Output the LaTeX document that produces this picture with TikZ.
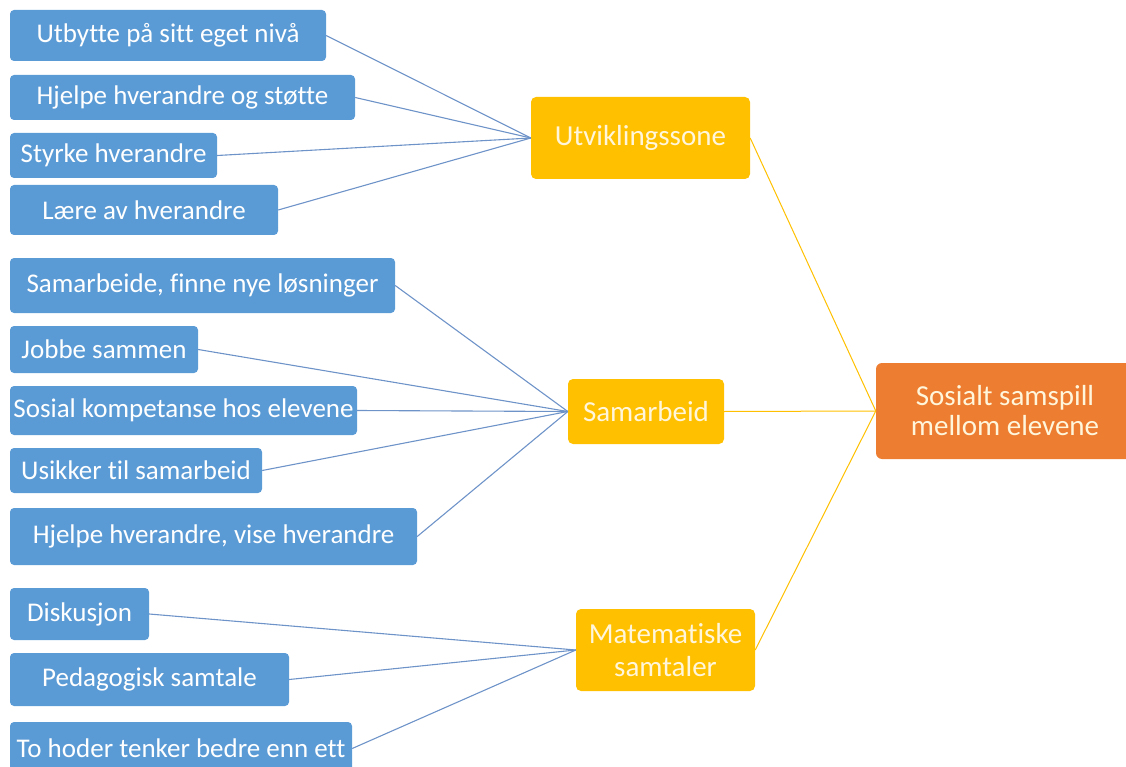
\documentclass[tikz,border=0pt]{standalone}
\usepackage{fontspec}
\setmainfont[Ligatures=NoCommon]{Carlito}
\definecolor{leafblue}{HTML}{5B9BD5}
\definecolor{linkblue}{HTML}{6E93C8}
\definecolor{midgold}{HTML}{FFC000}
\definecolor{toporange}{HTML}{ED7D31}
\definecolor{cream}{HTML}{FFF6DC}
\tikzstyle{leaf}=[rectangle,rounded corners=4pt,fill=leafblue,text=white,inner sep=0pt,font=\fontsize{27}{31}\selectfont]
\tikzstyle{mid}=[rectangle,rounded corners=5pt,fill=midgold,text=cream,inner sep=0pt,align=center,font=\fontsize{29}{33}\selectfont]
\tikzstyle{top}=[rectangle,rounded corners=6pt,fill=toporange,text=cream,inner sep=0pt,align=center,font=\fontsize{29}{30}\selectfont]

\begin{document}
\begin{tikzpicture}[x=1pt,y=-1pt]
    \useasboundingbox (0,0) rectangle (1126,767);
    \clip (0,0) rectangle (1126,767);
    % Utviklingssone
    \node[leaf,minimum width=316pt,minimum height=51pt] (u1) at (168,35.5)  {Utbytte på sitt eget nivå};
    \node[leaf,minimum width=345pt,minimum height=45pt] (u2) at (182.5,97.5) {Hjelpe hverandre og støtte};
    \node[leaf,minimum width=207pt,minimum height=45pt] (u3) at (113.5,155.5) {Styrke hverandre};
    \node[leaf,minimum width=268pt,minimum height=50pt] (u4) at (144,210) {Lære av hverandre};
    % Samarbeid
    \node[leaf,minimum width=385pt,minimum height=55pt] (s1) at (202.5,285.5) {Samarbeide, finne nye løsninger};
    \node[leaf,minimum width=188pt,minimum height=47pt] (s2) at (104,349.5) {Jobbe sammen};
    \node[leaf,minimum width=347pt,minimum height=49pt] (s3) at (183.5,410.5) {Sosial kompetanse hos elevene};
    \node[leaf,minimum width=252pt,minimum height=45pt] (s4) at (136,470.5) {Usikker til samarbeid};
    \node[leaf,minimum width=407pt,minimum height=57pt] (s5) at (213.5,536.5) {Hjelpe hverandre, vise hverandre};
    % Matematiske samtaler
    \node[leaf,minimum width=139pt,minimum height=52pt] (m1) at (79.5,614) {Diskusjon};
    \node[leaf,minimum width=279pt,minimum height=53pt] (m2) at (149.5,679.5) {Pedagogisk samtale};
    \node[leaf,minimum width=342pt,minimum height=53pt] (m3) at (181,748.5) {To hoder tenker bedre enn ett};

    \node[mid,minimum width=219pt,minimum height=82pt] (ut) at (640.5,138) {Utviklingssone};
    \node[mid,minimum width=156pt,minimum height=65pt] (sa) at (646,411.5) {Samarbeid};
    \node[mid,minimum width=179pt,minimum height=82pt] (ma) at (665.5,650) {Matematiske\\samtaler};

    \node[top,minimum width=258pt,minimum height=96pt] (so) at (1005,411) {Sosialt samspill\\mellom elevene};

    \foreach \from/\to in {u1/ut,u2/ut,u3/ut,u4/ut,s1/sa,s2/sa,s3/sa,s4/sa,s5/sa,m1/ma,m2/ma,m3/ma}
    \draw[linkblue,line width=1.1pt] (\from.east) -- (\to.west);
    \foreach \from in {ut,sa,ma}
    \draw[midgold,line width=1pt] (\from.east) -- (so.west);
\end{tikzpicture}
\end{document}
